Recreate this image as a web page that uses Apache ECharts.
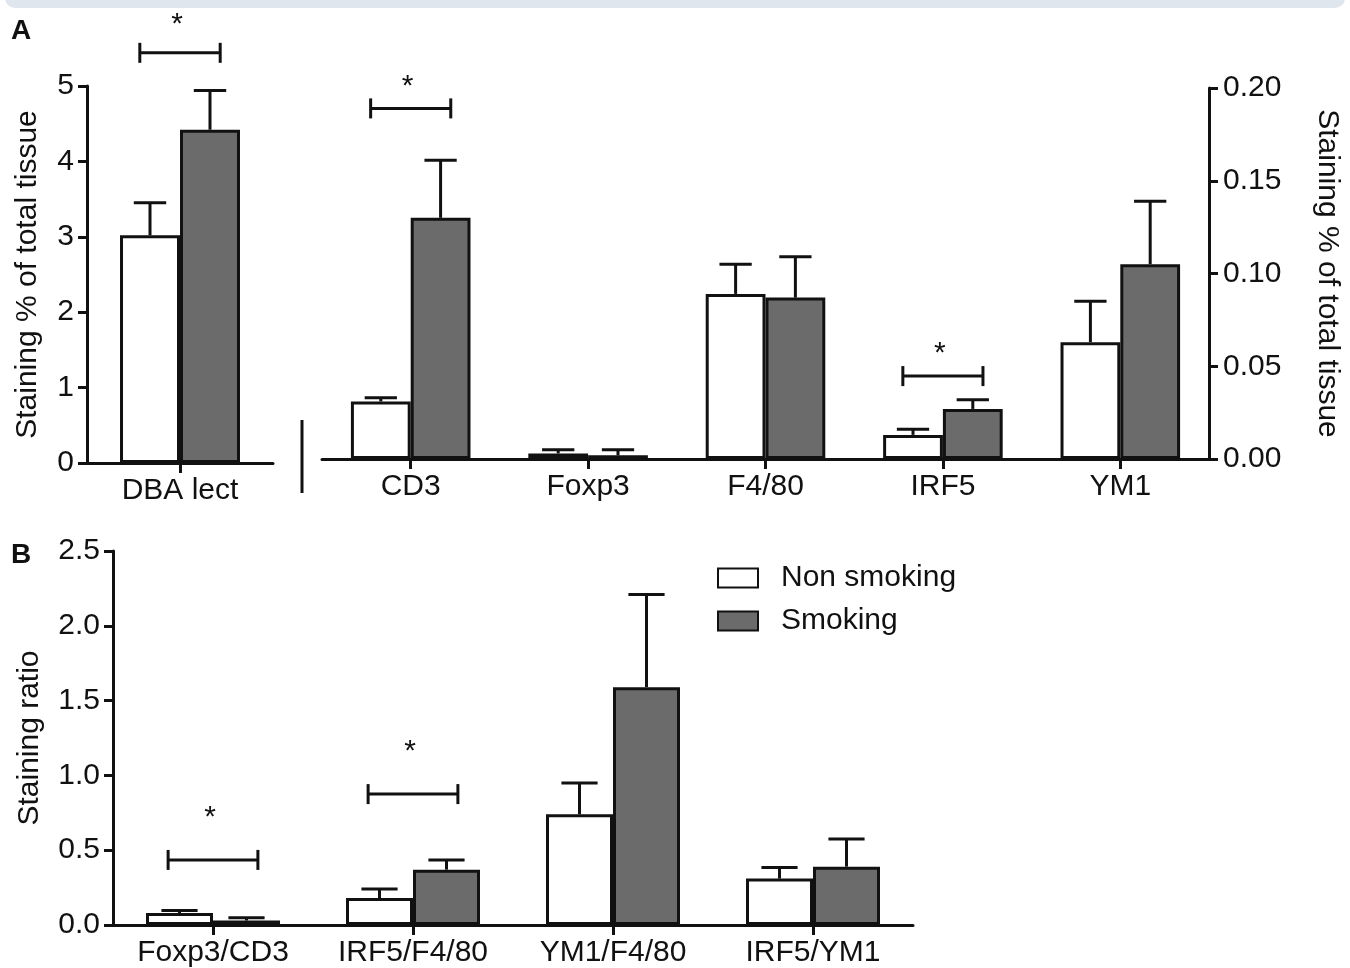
<!DOCTYPE html>
<html>
<head>
<meta charset="utf-8">
<script src="https://cdn.jsdelivr.net/npm/echarts@6/dist/echarts.min.js"></script>
<style>
html,body{margin:0;padding:0;background:#fff;}
#chart{width:1350px;height:968px;}
</style>
</head>
<body>
<div id="chart"></div>
<script>
// ---------------- DATA ----------------
const seriesNames = ['Non smoking', 'Smoking'];

// Panel A, left axis (% of total tissue, 0-5)
const catsA1 = ['DBA lect'];
const nonA1 = [3.02];
const nonA1Sem = [0.43];
const smkA1 = [4.42];
const smkA1Sem = [0.52];
const sigA1 = [['DBA lect', 5.44]];

// Panel A, right axis (% of total tissue, 0-0.20)
const catsA2 = ['CD3', 'Foxp3', 'F4/80', 'IRF5', 'YM1'];
const nonA2 = [0.031, 0.003, 0.089, 0.013, 0.063];
const nonA2Sem = [0.002, 0.002, 0.016, 0.003, 0.022];
const smkA2 = [0.130, 0.002, 0.087, 0.027, 0.105];
const smkA2Sem = [0.031, 0.003, 0.022, 0.005, 0.034];
const sigA2 = [['CD3', 0.189], ['IRF5', 0.0447]];

// Panel B (staining ratio)
const catsB = ['Foxp3/CD3', 'IRF5/F4/80', 'YM1/F4/80', 'IRF5/YM1'];
const nonB = [0.08, 0.18, 0.74, 0.31];
const nonBSem = [0.017, 0.06, 0.21, 0.075];
const smkB = [0.03, 0.37, 1.59, 0.39];
const smkBSem = [0.018, 0.065, 0.62, 0.185];
const sigB = [['Foxp3/CD3', 0.435], ['IRF5/F4/80', 0.875]];

// ---------------- STYLE ----------------
const FONT = '"Liberation Sans", Arial, Helvetica, sans-serif';
const INK = '#111';
const GRAY = '#6b6b6b';
const LW = 3;
const gapPct = [0.355, 0.326, 0.33];

const chart = echarts.init(document.getElementById('chart'), null, {renderer: 'canvas'});

function xAxisDef(gi, cats) {
  return {
    type: 'category', gridIndex: gi, data: cats,
    axisLine: {show: true, lineStyle: {color: INK, width: LW}},
    axisTick: {show: true, alignWithLabel: true, length: 10, lineStyle: {color: INK, width: LW}},
    axisLabel: {interval: 0, fontSize: 30, color: INK, margin: 13, fontFamily: FONT},
    splitLine: {show: false}
  };
}
function yAxisDef(gi, min, max, interval, dec, name, opts) {
  return Object.assign({
    type: 'value', gridIndex: gi, min: min, max: max, interval: interval,
    axisLine: {show: true, lineStyle: {color: INK, width: LW}},
    axisTick: {show: true, length: 9, lineStyle: {color: INK, width: LW}},
    axisLabel: {fontSize: 30, color: INK, margin: 13, fontFamily: FONT,
      formatter: v => v.toFixed(dec)},
    splitLine: {show: false},
    name: name, nameLocation: 'middle',
    nameTextStyle: {fontSize: 30, color: INK, fontFamily: FONT}
  }, opts || {});
}

function barSeries(name, data, idx, smoking) {
  return {
    type: 'bar', name: name, xAxisIndex: idx, yAxisIndex: idx, data: data,
    barGap: '0%', barCategoryGap: (gapPct[idx] * 100) + '%',
    itemStyle: {color: smoking ? GRAY : '#fff', borderColor: INK, borderWidth: LW},
    emphasis: {disabled: true}, z: 2
  };
}

function errSeries(name, cats, means, sems, idx, groupIdx) {
  return {
    type: 'custom', name: name, xAxisIndex: idx, yAxisIndex: idx, clip: false, z: 3,
    silent: true,
    data: cats.map((c, i) => [i, means[i], means[i] + sems[i]]),
    encode: {x: 0, y: 2},
    renderItem: function (params, api) {
      const i = api.value(0);
      const band = api.size([1, 0])[0];
      const bw = band * (1 - gapPct[idx]) / 2;
      const cx = api.coord([i, 0])[0] + (groupIdx - 0.5) * bw;
      const yM = api.coord([i, api.value(1)])[1];
      const yT = api.coord([i, api.value(2)])[1];
      const half = bw * 0.27;
      const st = {stroke: INK, lineWidth: LW};
      return {type: 'group', children: [
        {type: 'line', shape: {x1: cx, y1: yM, x2: cx, y2: yT}, style: st},
        {type: 'line', shape: {x1: cx - half, y1: yT, x2: cx + half, y2: yT}, style: st}
      ]};
    }
  };
}

function sigSeries(sig, cats, idx, starOff) {
  return {
    type: 'custom', xAxisIndex: idx, yAxisIndex: idx, clip: false, z: 4, silent: true,
    data: sig.map(s => [cats.indexOf(s[0]), s[1]]),
    encode: {x: 0, y: 1},
    renderItem: function (params, api) {
      const i = api.value(0);
      const band = api.size([1, 0])[0];
      const bw = band * (1 - gapPct[idx]) / 2;
      const p = api.coord([i, api.value(1)]);
      const hw = bw * 0.67;
      const st = {stroke: INK, lineWidth: LW};
      return {type: 'group', children: [
        {type: 'line', shape: {x1: p[0] - hw, y1: p[1], x2: p[0] + hw, y2: p[1]}, style: st},
        {type: 'line', shape: {x1: p[0] - hw, y1: p[1] - 10, x2: p[0] - hw, y2: p[1] + 10}, style: st},
        {type: 'line', shape: {x1: p[0] + hw, y1: p[1] - 10, x2: p[0] + hw, y2: p[1] + 10}, style: st},
        {type: 'text', x: p[0] - 3, y: p[1] - starOff,
          style: {text: '*', font: '30px ' + FONT, fill: INK, align: 'center', verticalAlign: 'middle'}}
      ]};
    }
  };
}

const option = {
  animation: false,
  backgroundColor: '#fff',
  textStyle: {fontFamily: FONT},
  grid: [
    {left: 87, top: 86, width: 186, height: 377},
    {left: 322, top: 88, width: 897, height: 371},
    {left: 113, top: 551, width: 800, height: 374}
  ],
  xAxis: [xAxisDef(0, catsA1), xAxisDef(1, catsA2), xAxisDef(2, catsB)],
  yAxis: [
    yAxisDef(0, 0, 5, 1, 0, 'Staining % of total tissue', {nameGap: 44}),
    yAxisDef(1, 0, 0.2, 0.05, 2, 'Staining % of total tissue',
      {position: 'right', nameGap: 103, nameRotate: -90,
       axisLabel: {fontSize: 30, color: INK, margin: 14, fontFamily: FONT, formatter: v => v.toFixed(2)}}),
    yAxisDef(2, 0, 2.5, 0.5, 1, 'Staining ratio', {nameGap: 68})
  ],
  legend: {
    data: seriesNames, orient: 'vertical', left: 717, top: 563, padding: 0,
    icon: 'rect', itemWidth: 40, itemHeight: 19, itemGap: 13,
    selectedMode: false,
    textStyle: {fontSize: 30, color: INK, fontFamily: FONT, padding: [0, 0, 0, 18]}
  },
  graphic: [
    {type: 'rect', shape: {x: 5, y: -20, width: 1340, height: 28, r: 10},
     style: {fill: '#dfe6ed'}, silent: true},
    {type: 'text', left: 11, top: 17, style: {text: 'A', font: 'bold 28px ' + FONT, fill: INK}},
    {type: 'text', left: 11, top: 541, style: {text: 'B', font: 'bold 28px ' + FONT, fill: INK}},
    {type: 'line', shape: {x1: 302, y1: 420, x2: 302, y2: 493}, style: {stroke: INK, lineWidth: LW}}
  ],
  series: [
    barSeries(seriesNames[0], nonA1, 0, false),
    barSeries(seriesNames[1], smkA1, 0, true),
    errSeries(seriesNames[0], catsA1, nonA1, nonA1Sem, 0, 0),
    errSeries(seriesNames[1], catsA1, smkA1, smkA1Sem, 0, 1),
    sigSeries(sigA1, catsA1, 0, 28),

    barSeries(seriesNames[0], nonA2, 1, false),
    barSeries(seriesNames[1], smkA2, 1, true),
    errSeries(seriesNames[0], catsA2, nonA2, nonA2Sem, 1, 0),
    errSeries(seriesNames[1], catsA2, smkA2, smkA2Sem, 1, 1),
    sigSeries(sigA2, catsA2, 1, 22),

    barSeries(seriesNames[0], nonB, 2, false),
    barSeries(seriesNames[1], smkB, 2, true),
    errSeries(seriesNames[0], catsB, nonB, nonBSem, 2, 0),
    errSeries(seriesNames[1], catsB, smkB, smkBSem, 2, 1),
    sigSeries(sigB, catsB, 2, 42)
  ]
};
chart.setOption(option);
</script>
</body>
</html>
